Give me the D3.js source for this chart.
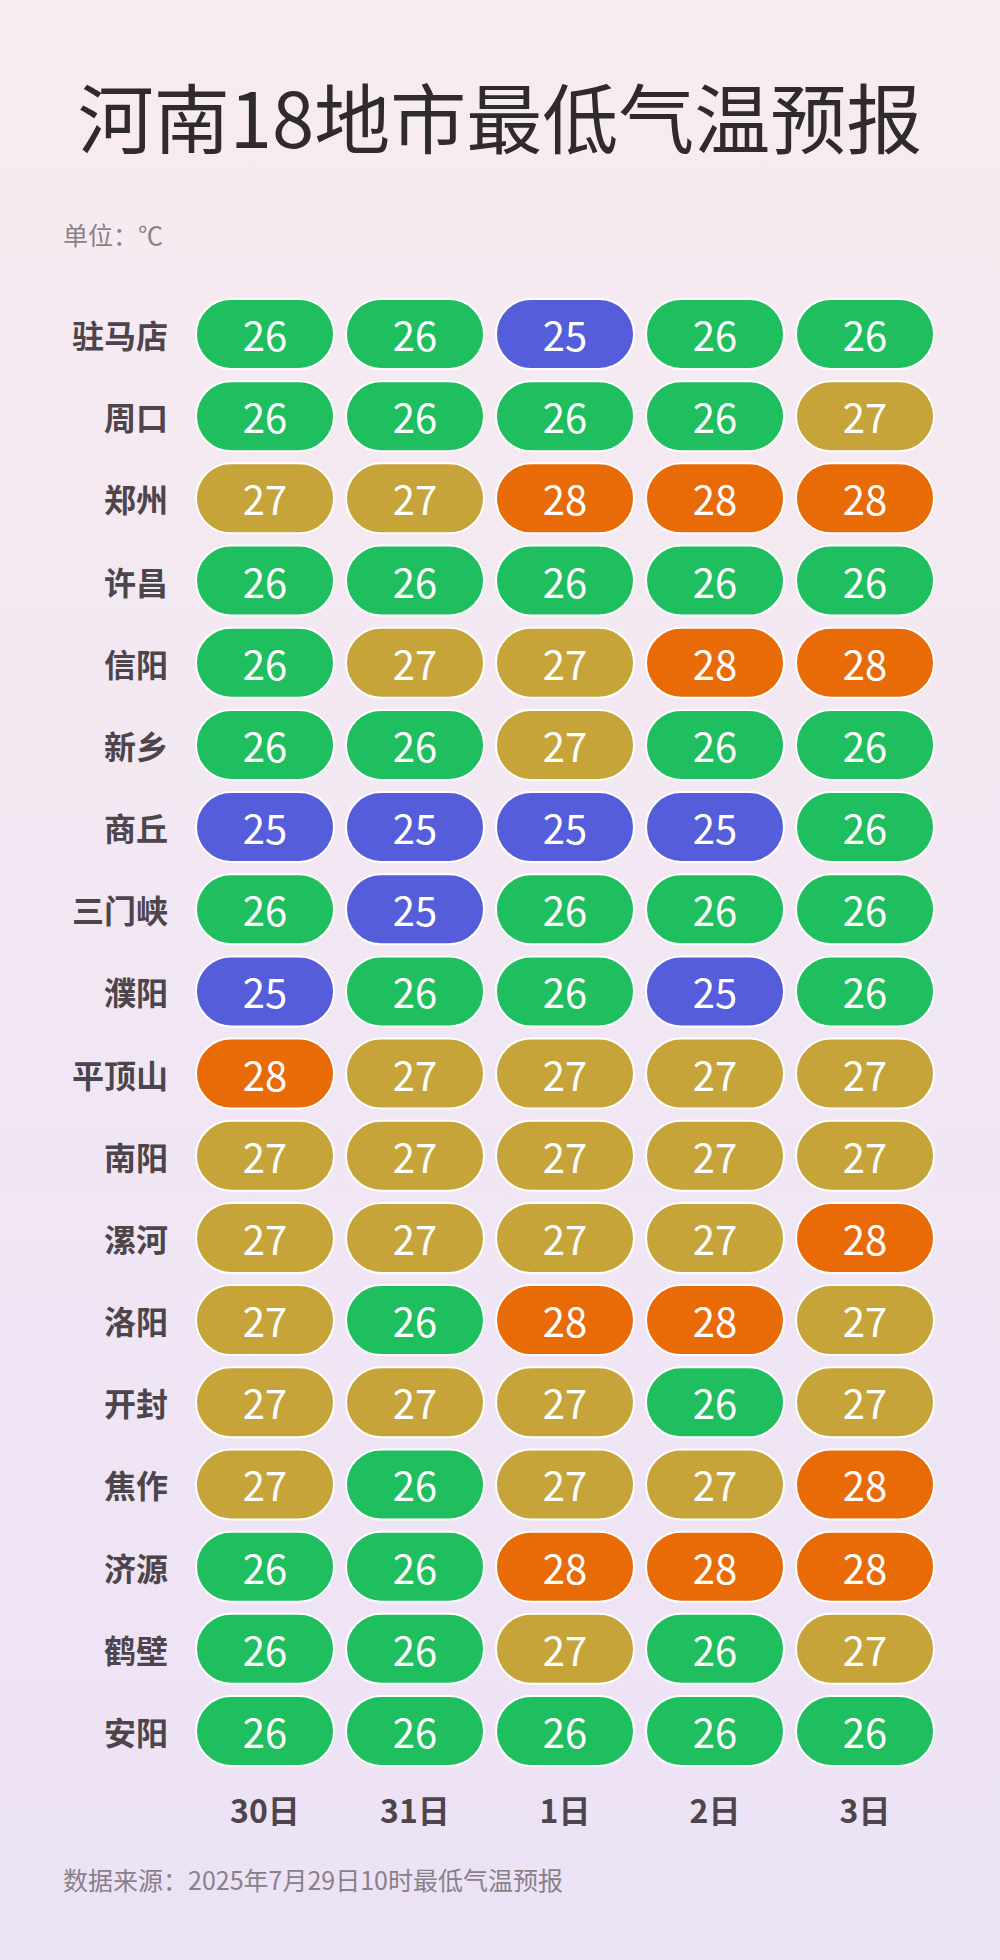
<!DOCTYPE html>
<html><head><meta charset="utf-8">
<script src="https://cdn.jsdelivr.net/npm/d3@7/dist/d3.min.js"></script>
<style>html,body{margin:0;padding:0;}</style>
</head><body>
<svg id="c" width="1000" height="1960"></svg>
<script>
const cities = ["驻马店","周口","郑州","许昌","信阳","新乡","商丘","三门峡","濮阳","平顶山","南阳","漯河","洛阳","开封","焦作","济源","鹤壁","安阳"];
const days = ["30日","31日","1日","2日","3日"];
const d30 = [26,26,27,26,26,26,25,26,25,28,27,27,27,27,27,26,26,26];
const d31 = [26,26,27,26,27,26,25,25,26,27,27,27,26,27,26,26,26,26];
const d1  = [25,26,28,26,27,27,25,26,26,27,27,27,28,27,27,28,27,26];
const d2  = [26,26,28,26,28,26,25,26,25,27,27,27,28,26,27,28,26,26];
const d3v = [26,27,28,26,28,26,26,26,26,27,27,28,27,27,28,28,27,26];
const series = [d30,d31,d1,d2,d3v];
const tempColors = {25:"#555ddb",26:"#1fbf5f",27:"#c6a43a",28:"#e96b08"};

const svg = d3.select("#c");
const defs = svg.append("defs");
const g = defs.append("linearGradient").attr("id","bg").attr("x1",0).attr("y1",0).attr("x2",0).attr("y2",1);
g.append("stop").attr("offset","0").attr("stop-color","#f7ecf0");
g.append("stop").attr("offset","1").attr("stop-color","#ece2f6");
svg.append("rect").attr("width",1000).attr("height",1960).attr("fill","url(#bg)");

const font = "'Noto Sans CJK SC','Noto Sans',sans-serif";
svg.append("text").attr("x",500).attr("y",115).attr("text-anchor","middle").attr("dominant-baseline","central")
  .attr("font-family",font).attr("font-size",76).attr("fill","#2f2a2e").text("河南18地市最低气温预报");
svg.append("text").attr("x",63).attr("y",234).attr("dominant-baseline","central")
  .attr("font-family",font).attr("font-size",25).attr("fill","#8a8088").text("单位：℃");

const x = d3.scalePoint().domain(days).range([265,865]);
const y = d3.scalePoint().domain(cities).range([334,1731]);
const pw = 138, ph = 70;

svg.append("g").selectAll("text").data(cities).join("text")
  .attr("x",168).attr("y",d=>y(d)).attr("text-anchor","end").attr("dominant-baseline","central")
  .attr("font-family",font).attr("font-size",32).attr("font-weight",700).attr("fill","#4d454b").text(d=>d);

const cells = [];
series.forEach((s,j)=>s.forEach((v,i)=>cells.push({day:days[j],city:cities[i],v})));
const cg = svg.append("g").selectAll("g").data(cells).join("g")
  .attr("transform",d=>`translate(${x(d.day)},${y(d.city)})`);
cg.append("rect").attr("x",-pw/2).attr("y",-ph/2).attr("width",pw).attr("height",ph)
  .attr("rx",ph/2).attr("fill",d=>tempColors[d.v]).attr("stroke","#fff").attr("stroke-width",2);
cg.append("text").attr("text-anchor","middle").attr("dominant-baseline","central")
  .attr("font-family",font).attr("font-size",40).attr("fill","#fff").text(d=>d.v);

svg.append("g").selectAll("text").data(days).join("text")
  .attr("x",d=>x(d)).attr("y",1809).attr("text-anchor","middle").attr("dominant-baseline","central")
  .attr("font-family",font).attr("font-size",32).attr("font-weight",700).attr("fill","#4d454b").text(d=>d);

svg.append("text").attr("x",63).attr("y",1879).attr("dominant-baseline","central")
  .attr("font-family",font).attr("font-size",25).attr("fill","#8a8088").text("数据来源：2025年7月29日10时最低气温预报");
</script>
</body></html>
